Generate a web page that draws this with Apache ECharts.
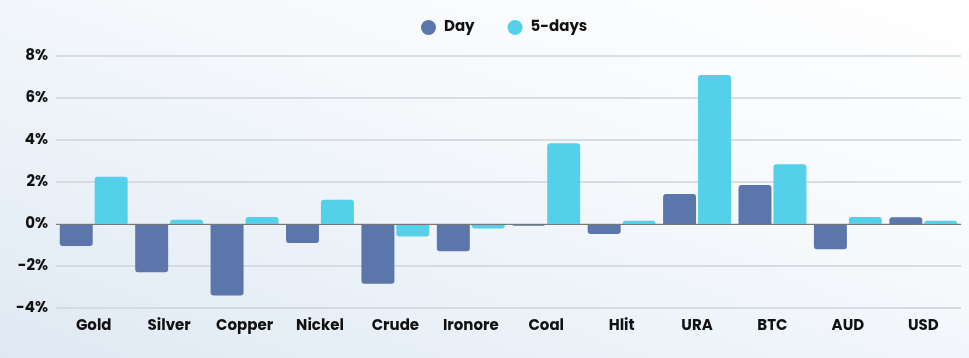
<!DOCTYPE html>
<html><head><meta charset="utf-8">
<script src="https://cdn.jsdelivr.net/npm/echarts@6/dist/echarts.min.js"></script>
<style>
html,body{margin:0;padding:0;}
#c{width:969px;height:358px;background:linear-gradient(200deg,#ffffff 0%,#f6f9fc 40%,#dfe9f3 100%);}
</style></head><body>
<div id="c"></div>
<script>
const categories = ['Gold','Silver','Copper','Nickel','Crude','Ironore','Coal','Hlit','URA','BTC','AUD','USD'];
const dayValues = [-1.05,-2.3,-3.4,-0.9,-2.85,-1.3,-0.08,-0.48,1.43,1.86,-1.2,0.32];
const fiveDayValues = [2.25,0.2,0.33,1.15,-0.6,-0.22,3.85,0.15,7.1,2.84,0.33,0.16];
const yTicks = {min:-4,max:8,interval:2};

function items(vals){
  return vals.map(v=>({value:v,itemStyle:{borderRadius:v>=0?[3,3,0,0]:[0,0,3,3]}}));
}
const chart = echarts.init(document.getElementById('c'));
const font = 'Poppins, Inter, sans-serif';
chart.setOption({
  animation:false,
  legend:{top:15,left:416,itemGap:33,icon:'circle',itemWidth:15,itemHeight:15,
    textStyle:{fontFamily:font,fontWeight:700,fontSize:15,color:'#111',padding:[0,0,0,3]},
    data:['Day','5-days']},
  grid:{left:56,right:8,top:56,bottom:50},
  xAxis:{type:'category',data:categories,
    axisLine:{show:false},axisTick:{show:false},
    axisLabel:{fontFamily:font,fontWeight:700,fontSize:15,color:'#111',margin:11}},
  yAxis:{type:'value',min:yTicks.min,max:yTicks.max,interval:yTicks.interval,
    axisLabel:{formatter:'{value}%',fontFamily:font,fontWeight:700,fontSize:15,color:'#111',margin:8},
    splitLine:{lineStyle:{color:'#cfd3d8',width:1.5}},
    axisLine:{show:false},axisTick:{show:false}},
  series:[
    {name:'Day',type:'bar',data:items(dayValues),barGap:'6%',barCategoryGap:'10%',
      itemStyle:{color:'#5a76aa'},
      markLine:{silent:true,symbol:'none',label:{show:false},lineStyle:{color:'#777',width:1,type:'solid'},data:[{yAxis:0}]}},
    {name:'5-days',type:'bar',data:items(fiveDayValues),itemStyle:{color:'#55d0ea'}}
  ]
});
</script></body></html>
